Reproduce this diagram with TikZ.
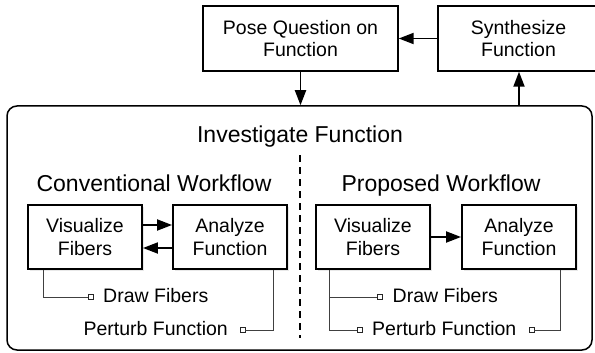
\documentclass[tikz,border=0pt]{standalone}
\usepackage{fontspec}
\setmainfont{Liberation Sans}
\usetikzlibrary{arrows.meta,shadows}
\begin{document}
\begin{tikzpicture}[x=1pt,y=-1pt,
  box/.style={draw, line width=1.9pt, rectangle, inner sep=0pt, align=center,
    font=\fontsize{19.5}{22.5}\selectfont, fill=white,
    minimum width=114pt, minimum height=64pt,
    drop shadow={shadow xshift=1.5pt, shadow yshift=-1.5pt, opacity=0.18}},
  topbox/.style={draw, line width=1.4pt, rectangle, inner sep=0pt, align=center,
    font=\fontsize{19.5}{22.5}\selectfont, fill=white, minimum height=65pt},
  boxtext/.style={inner sep=0pt, align=center, font=\fontsize{19.5}{22.5}\selectfont},
  title/.style={font=\fontsize{23}{26}\selectfont, inner sep=0pt, anchor=base},
  lab/.style={font=\fontsize{19.5}{22}\selectfont, inner sep=0pt},
  arr/.style={line width=1.9pt, -{Triangle[length=15pt,width=11pt]}},
  thinline/.style={line width=0.9pt, draw=black!75},
  sq/.style={draw=black!85, line width=0.8pt, fill=white, minimum size=5pt, inner sep=0pt, rectangle}
]
\useasboundingbox (0,0) rectangle (595,353);
\clip (0,0) rectangle (595,353);

% top boxes
\node[topbox, minimum width=195pt] (pose) at (300.5,38.5) {Pose Question on\\Function};
\node[topbox, minimum width=200pt] (synth) at (538,38.5) {};
\node[boxtext] (synthtext) at (518.5,38.5) {Synthesize\\Function};

% big box
\node[draw, rounded corners=10pt, line width=1.5pt, minimum width=585pt, minimum height=244pt, inner sep=0pt] (inv) at (299.5,228) {};

\coordinate (up) at (519,106);
\draw[arr] (pose.south) -- (pose.south |- inv.north);
\draw[arr] (up) -- (up |- synth.south);
\draw[arr] (synth.west) -- (pose.east);

% titles
\node[title] (tinv) at (300,142.5) {Investigate Function};
\node[title] (tconv) at (154,191) {Conventional Workflow};
\node[title] (tprop) at (441,191) {Proposed Workflow};

% dashed separator
\coordinate (dtop) at (300,155);
\coordinate (dbot) at (300,338);
\draw[line width=1.3pt, dash pattern=on 7pt off 5pt] (dtop) -- (dbot);

% conventional workflow
\node[box] (vf1) at (85,237) {Visualize\\Fibers};
\node[box] (af1) at (230,237) {Analyze\\Function};
\draw[arr] ([yshift=12pt]vf1.east) -- ([yshift=12pt]af1.west);
\draw[arr] ([yshift=-11pt]af1.west) -- ([yshift=-11pt]vf1.east);

\node[sq] (s1) at (90.5,297) {};
\node[sq] (s2) at (242.5,330) {};
\node[lab, anchor=west] (l1) at (103,296) {Draw Fibers};
\node[lab, anchor=east] (l2) at (228,328.5) {Perturb Function};
\draw[thinline] ([xshift=-42pt]vf1.south) |- (s1.west);
\draw[thinline] ([xshift=43pt]af1.south) |- (s2.east);

% proposed workflow
\node[box] (vf2) at (373,237) {Visualize\\Fibers};
\node[box] (af2) at (519,237) {Analyze\\Function};
\draw[arr] (vf2.east) -- (af2.west);

\node[sq] (s3) at (380,297) {};
\node[sq] (s4) at (359.5,330) {};
\node[sq] (s5) at (531.5,330) {};
\node[lab, anchor=west] (l3) at (392.5,296) {Draw Fibers};
\node[lab, anchor=west] (l4) at (372,328.5) {Perturb Function};
\coordinate (v2l) at ([xshift=-44pt]vf2.south);
\draw[thinline] (v2l) |- (s4.west);
\draw[thinline] (v2l |- s3.west) -- (s3.west);
\draw[thinline] ([xshift=41pt]af2.south) |- (s5.east);
\end{tikzpicture}
\end{document}
